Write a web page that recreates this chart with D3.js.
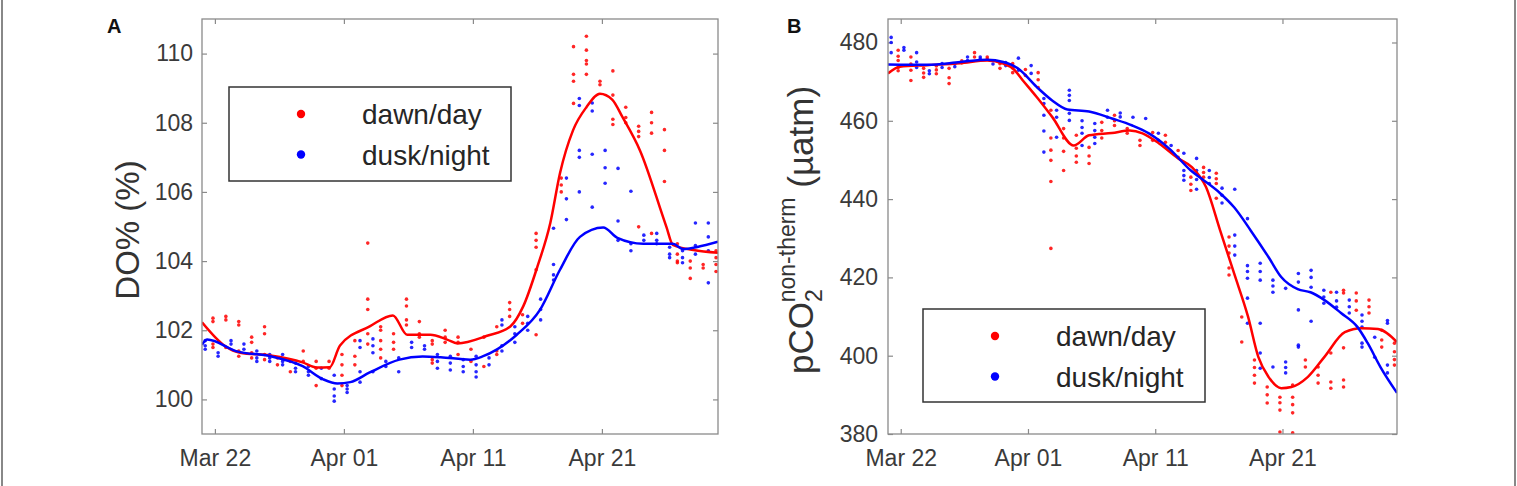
<!DOCTYPE html>
<html><head><meta charset="utf-8">
<script src="https://cdn.jsdelivr.net/npm/d3@7"></script>
<style>
body{margin:0;background:#fff}
svg{display:block}
text{font-family:"Liberation Sans",Arial,Helvetica,sans-serif}
</style>
</head><body>
<svg id="chart" width="1517" height="486"></svg>
<script>
// ---------- data (day = days after Mar 21) ----------
const xTickDays = [1, 11, 21, 31];
const xTickLabels = ["Mar 22", "Apr 01", "Apr 11", "Apr 21"];
const yTicksA = [100, 102, 104, 106, 108, 110];
const yTicksB = [380, 400, 420, 440, 460, 480];
const seriesNames = ["dawn/day", "dusk/night"];
const panelLabels = ["A", "B"];

// smoothed curves [day, value]
const dawnLineA = [[0,102.23],[1.8,101.54],[2.95,101.35],[5.3,101.27],[7.8,101.07],[8.9,100.92],[9.9,100.93],[10.7,101.56],[13.0,102.11],[14.8,102.43],[15.9,101.87],[17.7,101.87],[19.0,101.73],[19.8,101.62],[22.1,101.84],[23.9,102.11],[24.9,102.69],[26.0,103.84],[27.0,105.1],[27.75,106.54],[28.76,107.78],[29.8,108.45],[30.85,108.84],[31.8,108.67],[32.6,108.16],[33.95,107.2],[36.0,104.99],[36.5,104.47],[38.1,104.32],[40,104.24]];
const duskLineA = [[0,101.58],[0.4,101.73],[2.7,101.39],[5.3,101.25],[7.8,100.96],[9.4,100.58],[10.5,100.46],[11.5,100.5],[13.0,100.78],[15.3,101.15],[17.1,101.24],[18.5,101.22],[20.8,101.15],[21.8,101.25],[24.4,101.87],[26.2,102.59],[27.75,103.75],[29.3,104.7],[31.1,104.97],[32.2,104.67],[34.2,104.5],[36.5,104.5],[37.3,104.35],[38.4,104.41],[40,104.56]];
const dawnLineB = [[0,472.1],[0.94,473.8],[3.07,474.2],[5.67,474.7],[7.8,475.4],[9.06,474.6],[9.84,473.3],[10.6,470.3],[11.7,466.0],[12.9,461.0],[14.6,453.7],[15.8,456.3],[17.6,456.9],[19.0,457.5],[20.0,456.8],[21.3,454.2],[22.8,450.4],[23.9,448.1],[25.0,443.0],[26.1,432],[27.2,421],[28.3,409.9],[29.1,399.7],[29.9,394.6],[30.9,391.7],[31.7,392.0],[33.0,394.6],[34.3,399.7],[35.9,406],[37.2,407],[38.5,406.8],[40,403.5]];
const duskLineB = [[0,474.4],[3.07,474.3],[5.67,475.0],[7.8,475.6],[9.06,475],[10.2,473.4],[11.7,468.6],[12.9,465.2],[14.1,462.9],[15.8,462.4],[17.6,460.6],[19.2,458.8],[20.5,456.8],[22.1,452.9],[23.8,447.3],[24.6,445.3],[26.1,441.5],[27.2,437.9],[28.5,432],[29.9,425.2],[30.9,420.1],[32.2,417],[33.2,416.2],[34.3,414.2],[35.6,410.9],[36.9,407.3],[37.7,403.2],[38.7,397.1],[40,390.5]];

// individual samples: [day, [values]]
const dawnPtsA = [[0.85,[102.35,102.25,101.6,101.5]],[1.85,[102.4,102.3,101.5]],[2.85,[102.25,102.15,101.4,101.25]],[3.85,[101.8,101.65,101.35,101.2]],[4.85,[102.1,101.9,101.3,101.15]],[5.85,[101.2,101.0]],[6.85,[101.1,100.8]],[7.85,[101.4,101.1]],[8.85,[101.1,100.9,100.4]],[9.85,[101.1,100.9]],[10.85,[101.3,101.0,100.7,100.4]],[11.85,[101.7,101.25,101.0]],[12.85,[104.52,102.9,102.6,101.9,101.6]],[13.85,[102.1,102.0,101.7,101.45,101.2]],[14.85,[101.9,101.65,101.45]],[15.85,[102.9,102.7,102.3,102.15]],[16.85,[102.25,101.9,101.8]],[17.85,[101.7,101.6,101.15,101.05]],[18.85,[102.0,101.8,101.65]],[19.85,[101.8,101.65,101.3]],[20.85,[101.45,101.1]],[21.85,[101.8,100.95]],[22.85,[102.1,101.4,101.3]],[23.85,[102.8,102.6,102.4]],[24.85,[102.45,102.2]],[25.9,[104.8,104.6,104.4,103.75,101.87]],[27.85,[106.4,106.2,106.0]],[28.8,[110.2,109.4,109.2,108.56]],[29.8,[110.5,110.1,109.8,109.7,109.4]],[30.85,[109.2,109.1]],[31.85,[109.5,108.8,108.1,107.95]],[32.85,[108.45,108.15,108.0]],[33.85,[107.9,107.75,107.6,104.99]],[34.85,[108.3,108.0,107.7,104.8]],[35.85,[107.8,107.2,106.3]],[36.85,[104.5,104.2,104.0,103.95]],[37.85,[104.0,103.8,103.5]],[38.85,[103.9,103.8]],[39.85,[104.3,104.1,103.9,103.7]]];
const duskPtsA = [[0.25,[101.7,101.55,101.45]],[1.25,[101.35,101.25]],[2.25,[101.7,101.6]],[3.25,[101.6,101.45]],[4.25,[101.4,101.2,101.1]],[5.25,[101.3,101.2,101.1]],[6.25,[101.3,101.1,101.0]],[7.25,[101.05,100.9,100.8]],[8.25,[100.95,100.8,100.7]],[9.25,[100.9,100.6]],[10.25,[100.7,100.3,100.1,99.95]],[11.25,[100.4,100.3,100.2]],[12.25,[101.7,101.5,100.8,100.5]],[13.25,[101.75,101.55,101.35,100.8]],[14.25,[101.1,100.95]],[15.25,[101.2,100.8]],[16.25,[101.65,101.5]],[17.25,[101.55,101.45]],[18.25,[101.3,101.1,100.9]],[19.25,[101.25,101.05,100.85]],[20.25,[101.15,100.95,100.8]],[21.25,[101.25,101.0,100.8,100.65]],[22.25,[101.2,101.0]],[23.25,[102.3,102.15,101.55,101.4]],[24.25,[102.1,101.9,101.65]],[25.25,[102.4,102.2,102.0]],[26.25,[102.9,102.6,102.3]],[27.25,[104.95,103.9,103.6,103.45]],[28.25,[106.4,105.8,105.2]],[29.25,[108.7,108.5,107.2,107.0,106.0]],[30.25,[108.57,108.34,107.09,105.56]],[31.25,[107.2,106.7,106.25]],[32.25,[106.68,105.16,104.6]],[33.25,[106.02,104.5,104.3]],[34.25,[104.75,104.6]],[35.25,[104.8,104.6,104.5]],[36.25,[104.4,104.2,104.1]],[37.25,[104.3,104.1,103.95]],[38.25,[105.1,104.45,104.2]],[39.25,[105.1,104.7,104.3,103.37]]];
const dawnPtsB = [[0.8,[478,476.5,475.4,473.6,472.8]],[1.8,[476.3,474.5,472.9,470.3]],[2.8,[473.4,472.2,471.1]],[3.8,[474,473,472]],[4.8,[473.4,471,469.5]],[5.8,[475.3,474.8]],[6.8,[477.4,476.3]],[7.8,[476.3,475.8]],[8.8,[474.6,473.4]],[9.8,[474.6,473.5,472.3]],[10.8,[473.1,471.6]],[11.8,[472.3,470.5,468.5]],[12.8,[462.7,455.6,452.5,449.9,444.5,427.4]],[13.8,[458,455.6,452.2,447.3]],[14.8,[456.3,453,451,449.4]],[15.8,[453.2,451,449.1]],[16.8,[459.6,457.5,455.6]],[17.8,[461.4,460,458.8]],[18.8,[458,456.8]],[19.8,[455,453.7]],[20.8,[457,455]],[21.8,[456.3,454.5]],[22.8,[452.4,450.7]],[23.8,[445.6,443.8,442.2]],[24.8,[448.1,446.8,445.6]],[25.8,[446.6,445.2,444,440.2]],[26.8,[430.3,428,426.2,422.4,420.6]],[27.8,[409.9,403.5]],[28.8,[398.9,397,395,393]],[29.8,[392,390,387.9]],[30.8,[389.4,388,386.1,380.5]],[31.8,[392.5,389.4,387.5,385.4,380.3]],[32.8,[398.9,397.1]],[33.8,[397.1,395,393]],[34.8,[416.2,400.7,393.3,391.7]],[35.8,[416.7,416,402,393.8,392]],[36.8,[416,414,411.6]],[37.8,[414.2,412.5,410.9]],[38.8,[406.5,404,402.2]],[39.8,[403.2,401,399,397.6]]];
const duskPtsB = [[0.25,[481.3,480,477.4]],[1.25,[478.7,478]],[2.25,[477.4,475,473.6]],[3.25,[472.8,472]],[4.25,[474.6,473.6]],[5.25,[474.5,473.8]],[6.25,[476.3,475.4]],[7.25,[476.3,475.8]],[8.25,[474.5]],[9.25,[474.9,474.1]],[10.25,[476,472.9]],[11.25,[474.1,472.1]],[12.25,[465.7,464.4,461.4,457.4,452]],[13.25,[462.7,460.9,455.8]],[14.25,[467.8,466.5,465.2,461.9,460.1]],[15.25,[460,458.3,456.8,453.7]],[16.25,[459.3,457.5,455.8,454.2]],[17.25,[462.7,460.9]],[18.25,[462,461]],[19.25,[460.9]],[20.25,[460.6]],[21.25,[456.8,455]],[22.25,[453.7]],[23.25,[451.7,447.3,446,444.8]],[24.25,[450.4,447.3,445,442.5]],[25.25,[447.3,445.5,444]],[26.25,[442.8,441,439]],[27.25,[442.5,430.8,428,425.7]],[28.25,[435,423,421.5,419.8,414.7,408.3]],[29.25,[423.6,421.5,419.3,408.3,400.7,396.8]],[30.25,[419.3,417.8,416.2,397.1]],[31.25,[417.2,398.4,397,395.6]],[32.25,[421,418.8,411.7,402.7,402.2]],[33.25,[421.8,420,417.5,408.8]],[34.25,[416.7,415,413.4]],[35.25,[416.2,414,412.4]],[36.25,[414.2,412.5,410.9]],[37.25,[410.4,408.8,407.3,403.2,402.2]],[38.25,[404.7,399.6]],[39.25,[409,408.3,397.6,395.6]]];

// ---------- drawing ----------
const RED = "#ff0000", BLUE = "#0000ff";
const base = Date.UTC(2019, 2, 21);
const toDate = d => new Date(base + d * 864e5);
const svg = d3.select("#chart");

// outer figure frame (left & right edges)
svg.append("line").attr("x1",2).attr("x2",2).attr("y1",0).attr("y2",486).attr("stroke","#888").attr("stroke-width",2);
svg.append("line").attr("x1",1515).attr("x2",1515).attr("y1",0).attr("y2",486).attr("stroke","#888").attr("stroke-width",2);

function panel(cfg) {
  const {left, right, top, bottom, ydom, yticks, dawnLine, duskLine, dawnPts, duskPts, legend, label, labelX, yLabel, yPad} = cfg;
  const x = d3.scaleUtc().domain([toDate(0), toDate(40)]).range([left, right]);
  const y = d3.scaleLinear().domain(ydom).range([bottom, top]);
  const g = svg.append("g");

  const styleAxis = (sel, showText) => {
    sel.select(".domain").remove();
    sel.selectAll(".tick line").attr("stroke", "#8a8a8a").attr("stroke-width", 1.2);
    sel.selectAll(".tick text").attr("fill", "#3a3a3a").attr("font-size", 23)
      .attr("font-family", '"Liberation Sans", Arial, sans-serif');
    if (!showText) sel.selectAll(".tick text").remove();
  };
  const xt = xTickDays.map(toDate);
  g.append("g").attr("transform", `translate(0,${bottom})`)
    .call(d3.axisBottom(x).tickValues(xt).tickFormat((d, i) => xTickLabels[i]).tickSizeInner(-5).tickSizeOuter(0).tickPadding(16))
    .call(s => styleAxis(s, true));
  g.append("g").attr("transform", `translate(0,${top})`)
    .call(d3.axisTop(x).tickValues(xt).tickSizeInner(-5).tickSizeOuter(0))
    .call(s => styleAxis(s, false));
  g.append("g").attr("transform", `translate(${left},0)`)
    .call(d3.axisLeft(y).tickValues(yticks).tickFormat(d3.format("d")).tickSizeInner(-5).tickSizeOuter(0).tickPadding(yPad))
    .call(s => styleAxis(s, true));
  g.append("g").attr("transform", `translate(${right},0)`)
    .call(d3.axisRight(y).tickValues(yticks).tickSizeInner(-5).tickSizeOuter(0))
    .call(s => styleAxis(s, false));

  // clip for data
  const cid = "clip" + label;
  svg.append("clipPath").attr("id", cid).append("rect")
    .attr("x", left).attr("y", top).attr("width", right - left).attr("height", bottom - top);
  const dg = g.append("g").attr("clip-path", `url(#${cid})`);

  const flat = pts => pts.flatMap(([d, vs]) => vs.map(v => [d, v]));
  dg.selectAll("circle.dawn").data(flat(dawnPts)).join("circle").attr("class","dawn")
    .attr("cx", d => x(toDate(d[0]))).attr("cy", d => y(d[1])).attr("r", 1.8).attr("fill", RED).attr("opacity",0.85);
  dg.selectAll("circle.dusk").data(flat(duskPts)).join("circle").attr("class","dusk")
    .attr("cx", d => x(toDate(d[0]))).attr("cy", d => y(d[1])).attr("r", 1.8).attr("fill", BLUE).attr("opacity",0.85);

  const line = d3.line().x(d => x(toDate(d[0]))).y(d => y(d[1])).curve(d3.curveMonotoneX);
  dg.append("path").attr("d", line(dawnLine)).attr("fill", "none").attr("stroke", RED).attr("stroke-width", 2.5);
  dg.append("path").attr("d", line(duskLine)).attr("fill", "none").attr("stroke", BLUE).attr("stroke-width", 2.5);

  // plot box
  g.append("rect").attr("x", left).attr("y", top).attr("width", right - left).attr("height", bottom - top)
    .attr("fill", "none").attr("stroke", "#8a8a8a").attr("stroke-width", 1.3);

  // legend
  const L = legend;
  const lg = g.append("g");
  lg.append("rect").attr("x", L.x).attr("y", L.y).attr("width", L.w).attr("height", L.h)
    .attr("fill", "#fff").attr("stroke", "#333").attr("stroke-width", 1.5);
  [RED, BLUE].forEach((c, i) => {
    const cy = L.y + 27 + i * 40.5;
    lg.append("circle").attr("cx", L.x + 72).attr("cy", cy).attr("r", 4.2).attr("fill", c);
    lg.append("text").attr("x", L.x + 133).attr("y", cy + 10).attr("font-size", 28).attr("fill", "#262626").text(seriesNames[i]);
  });

  // panel label
  svg.append("text").attr("x", labelX).attr("y", 33).attr("font-size", 20).attr("font-weight", "bold").attr("fill", "#111").text(label);

  // y label
  yLabel(svg);
}

panel({
  left: 202, right: 718, top: 19, bottom: 434, ydom: [99, 111], yticks: yTicksA, yPad: 9,
  dawnLine: dawnLineA, duskLine: duskLineA, dawnPts: dawnPtsA, duskPts: duskPtsA,
  legend: {x: 229, y: 87, w: 282, h: 94}, label: panelLabels[0], labelX: 107,
  yLabel: s => s.append("text").attr("transform", "translate(139,230) rotate(-90)")
    .attr("text-anchor", "middle").attr("font-size", 33).attr("fill", "#333").text("DO% (%)")
});

panel({
  left: 888, right: 1397, top: 19, bottom: 434, ydom: [380, 486], yticks: yTicksB, yPad: 10,
  dawnLine: dawnLineB, duskLine: duskLineB, dawnPts: dawnPtsB, duskPts: duskPtsB,
  legend: {x: 923, y: 309, w: 282, h: 93}, label: panelLabels[1], labelX: 787,
  yLabel: s => {
    const t = s.append("text").attr("transform", "translate(813,230) rotate(-90)")
      .attr("text-anchor", "middle").attr("font-size", 35).attr("fill", "#333");
    t.append("tspan").text("pCO");
    t.append("tspan").attr("font-size", 23).attr("dy", 9).text("2");
    t.append("tspan").attr("font-size", 23).attr("dx", -13).attr("dy", -27).text("non-therm");
    t.append("tspan").attr("dy", 18).text(" (µatm)");
  }
});
</script>
</body></html>
